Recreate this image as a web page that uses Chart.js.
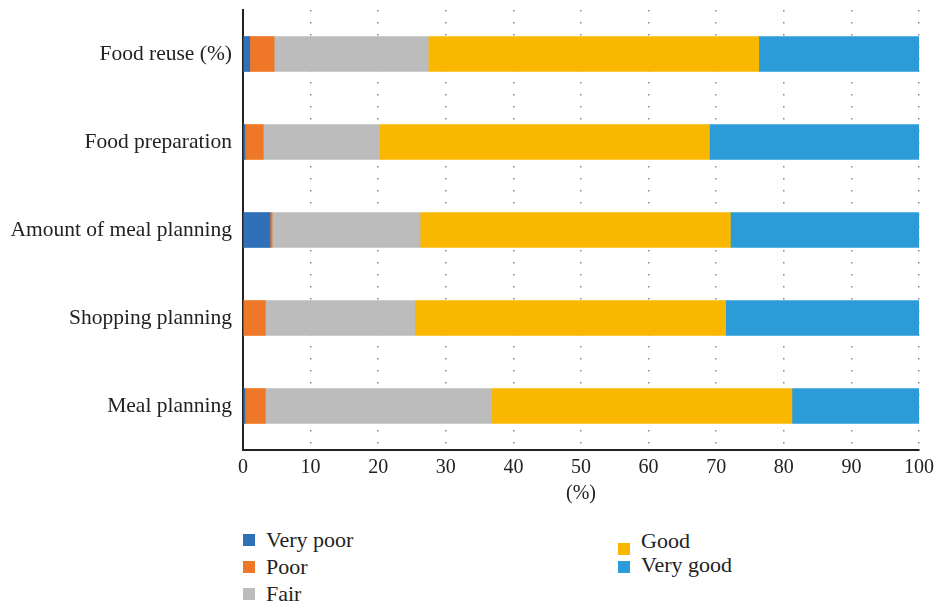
<!DOCTYPE html>
<html>
<head>
<meta charset="utf-8">
<script src="https://cdn.jsdelivr.net/npm/chart.js@4/dist/chart.umd.min.js"></script>
<style>
  html, body { margin: 0; padding: 0; background: #fff; }
  body { width: 938px; height: 603px; position: relative; overflow: hidden; font-family: "Liberation Serif", "DejaVu Serif", serif; }
  #wrap { position: absolute; left: 0; top: 0; width: 938px; height: 510px; }
  .legend-col { position: absolute; }
  .legend-item { display: flex; align-items: center; font-size: 22px; color: #222; white-space: nowrap; }
  .legend-item span.box { width: 12px; height: 12px; margin-right: 11px; flex: none; position: relative; }
  #legendLeft .legend-item { height: 27px; }
  #legendRight .legend-item { height: 24px; }
  #legendRight .legend-item:nth-child(1) span.box { top: 8px; }
  #legendRight .legend-item:nth-child(2) span.box { top: 2px; }
</style>
</head>
<body>
<div id="wrap"><canvas id="chart"></canvas></div>
<div class="legend-col" id="legendLeft" style="left:243px; top:526px;"></div>
<div class="legend-col" id="legendRight" style="left:618px; top:528.5px;"></div>
<script>
// Data
const categories = ["Food reuse (%)", "Food preparation", "Amount of meal planning", "Shopping planning", "Meal planning"];
const veryPoor = [1.0, 0.3, 4.0, 0.0, 0.3];
const poor = [3.6, 2.7, 0.3, 3.3, 3.0];
const fair = [22.8, 17.2, 21.9, 22.1, 33.5];
const good = [48.9, 48.8, 45.9, 46.0, 44.4];
const veryGood = [23.7, 31.0, 27.9, 28.6, 18.8];
const xTicks = [0, 10, 20, 30, 40, 50, 60, 70, 80, 90, 100];

const seriesNames = ["Very poor", "Poor", "Fair", "Good", "Very good"];
const seriesColors = ["#2F70B8", "#EE7828", "#BCBCBC", "#F9B700", "#2C9CD8"];
const seriesValues = [veryPoor, poor, fair, good, veryGood];

const serif = "'Liberation Serif', 'DejaVu Serif', serif";

const datasets = seriesNames.map((name, i) => ({
  label: name,
  data: seriesValues[i],
  backgroundColor: seriesColors[i],
  borderWidth: 0,
  barThickness: 35,
}));

const chart = new Chart(document.getElementById("chart"), {
  type: "bar",
  data: { labels: categories, datasets },
  options: {
    indexAxis: "y",
    responsive: true,
    maintainAspectRatio: false,
    animation: false,
    layout: { padding: { top: 10, right: 19, left: 0, bottom: 0 } },
    plugins: {
      legend: { display: false },
      tooltip: { enabled: false },
    },
    scales: {
      x: {
        stacked: true,
        min: 0,
        max: 100,
        afterBuildTicks: (scale) => {
          scale.ticks = xTicks.map((v) => ({ value: v }));
        },
        afterFit: (scale) => {
          scale.height = 60;
          scale.paddingLeft = 0;
          scale.paddingRight = 0;
        },
        grid: {
          color: "#8a8a8a",
          lineWidth: 1.5,
          drawTicks: false,
        },
        border: { display: true, color: "#222", width: 2, dash: [1.5, 10.5] },
        ticks: { font: { family: serif, size: 20 }, color: "#222", padding: 6, maxRotation: 0 },
        title: {
          display: true,
          text: "(%)",
          font: { family: serif, size: 20 },
          color: "#222",
          padding: { top: 0, bottom: 4 },
        },
      },
      y: {
        stacked: true,
        afterFit: (scale) => {
          scale.width = 243;
          scale.paddingTop = 0;
          scale.paddingBottom = 0;
        },
        grid: { display: false, drawTicks: false },
        border: { display: true, color: "#222", width: 2 },
        ticks: { font: { family: serif, size: 21.5 }, color: "#222", padding: 11 },
      },
    },
  },
});

// Legend, built from the datasets
function renderLegend() {
  const left = document.getElementById("legendLeft");
  const right = document.getElementById("legendRight");
  chart.data.datasets.forEach((ds, i) => {
    const item = document.createElement("div");
    item.className = "legend-item";
    item.innerHTML = `<span class="box" style="background:${ds.backgroundColor}"></span>${ds.label}`;
    (i < 3 ? left : right).appendChild(item);
  });
}
renderLegend();
</script>
</body>
</html>
